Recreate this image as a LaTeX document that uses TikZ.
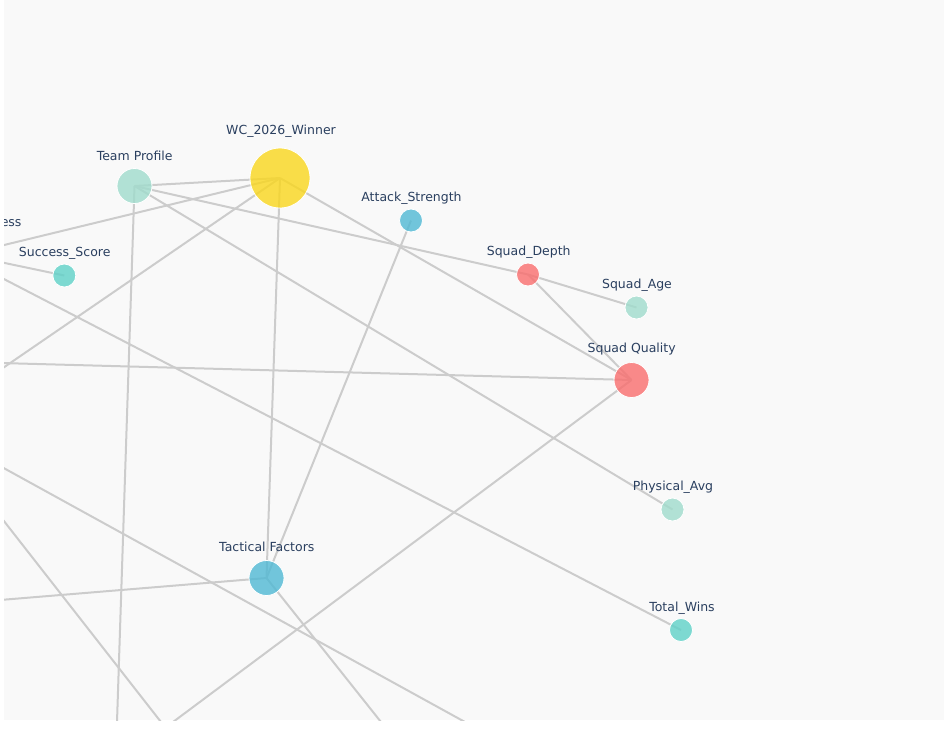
\documentclass[tikz,border=0pt]{standalone}
\usepackage{fontspec}
\setmainfont{DejaVu Sans}
\usetikzlibrary{backgrounds}
\definecolor{plotbg}{RGB}{249,249,249}
\definecolor{edgegray}{RGB}{204,204,204}
\definecolor{labeltext}{RGB}{42,63,95}
\definecolor{goldfill}{RGB}{250,215,28}
\definecolor{mintfill}{RGB}{160,220,204}
\definecolor{redfill}{RGB}{249,110,110}
\definecolor{bluefill}{RGB}{80,185,212}
\definecolor{tealfill}{RGB}{94,209,200}
\begin{document}
\begin{tikzpicture}[x=1pt, y=-1pt,
        link/.style={draw=edgegray, line width=2pt},
        bubble/.style={circle, inner sep=0pt, draw=white, line width=0.8pt, fill opacity=0.8},
        big/.style={bubble, minimum size=35pt},
        small/.style={bubble, minimum size=23pt},
        tag/.style={anchor=base, text=labeltext, inner sep=0pt, font=\fontsize{12.5}{15}\selectfont}]
        \useasboundingbox (0,0) rectangle (944,742);

        % nodes
        \node[bubble, fill=goldfill, minimum size=60pt] (wc) at (280,178) {};
        \node[big, fill=mintfill] (tp) at (134.5,186) {};
        \node[small, fill=bluefill] (as) at (411,220.5) {};
        \node[small, fill=redfill] (sd) at (528,274.5) {};
        \node[small, fill=mintfill] (sa) at (636.5,307.5) {};
        \node[big, fill=redfill] (sq) at (631.5,380) {};
        \node[small, fill=mintfill] (pa) at (672.5,509.5) {};
        \node[small, fill=tealfill] (tw) at (681,630) {};
        \node[big, fill=bluefill] (tf) at (266.5,578) {};
        \node[small, fill=tealfill] (ss) at (64.3,275.5) {};

        % labels
        \node[tag] (wcL) at (281,134.5) {WC\_2026\_Winner};
        \node[tag] (tpL) at (134.7,160.5) {Team Profile};
        \node[tag] (asL) at (411.5,201) {Attack\_Strength};
        \node[tag] (sdL) at (528.7,255.5) {Squad\_Depth};
        \node[tag] (saL) at (637,288) {Squad\_Age};
        \node[tag] (sqL) at (631.7,352) {Squad Quality};
        \node[tag] (paL) at (673,490.5) {Physical\_Avg};
        \node[tag] (twL) at (682,611.5) {Total\_Wins};
        \node[tag] (tfL) at (266.8,551.5) {Tactical Factors};
        \node[tag] (ssL) at (64.7,256.5) {Success\_Score};
        \begin{scope}
        \clip (4,0) rectangle (944,720);
        \node[tag, anchor=base east] (essL) at (21.7,226.7) {ess};
        \end{scope}

        % ends outside the plot
        \coordinate (offA) at (0,246);
        \coordinate (offB) at (0,370);
        \coordinate (offC) at (0,363);
        \coordinate (offD) at (0,262);
        \coordinate (offE) at (0,277);
        \coordinate (offF) at (0,600);
        \coordinate (offG) at (0,466);
        \coordinate (offH) at (465,722);
        \coordinate (offI) at (0,516);
        \coordinate (offJ) at (161,722);
        \coordinate (offK) at (117,722);
        \coordinate (offL) at (173,722);
        \coordinate (offM) at (381,722);

        \begin{scope}[on background layer]
        \fill[white] (0,0) rectangle (944,742);
        \fill[plotbg] (4,0) rectangle (944,720);
        \clip (4,0) rectangle (944,720);
        \draw[link] (tp.center) -- (wc.center);
        \draw[link] (tp.center) -- (sd.center);
        \draw[link] (tp.center) -- (pa.center);
        \draw[link] (tp.center) -- (offK);
        \draw[link] (wc.center) -- (offA);
        \draw[link] (wc.center) -- (offB);
        \draw[link] (wc.center) -- (tf.center);
        \draw[link] (wc.center) -- (sq.center);
        \draw[link] (as.center) -- (tf.center);
        \draw[link] (sd.center) -- (sa.center);
        \draw[link] (sd.center) -- (sq.center);
        \draw[link] (sq.center) -- (offC);
        \draw[link] (sq.center) -- (offL);
        \draw[link] (ss.center) -- (offD);
        \draw[link] (tw.center) -- (offE);
        \draw[link] (tf.center) -- (offF);
        \draw[link] (tf.center) -- (offM);
        \draw[link] (offG) -- (offH);
        \draw[link] (offI) -- (offJ);
        \end{scope}
\end{tikzpicture}
\end{document}
